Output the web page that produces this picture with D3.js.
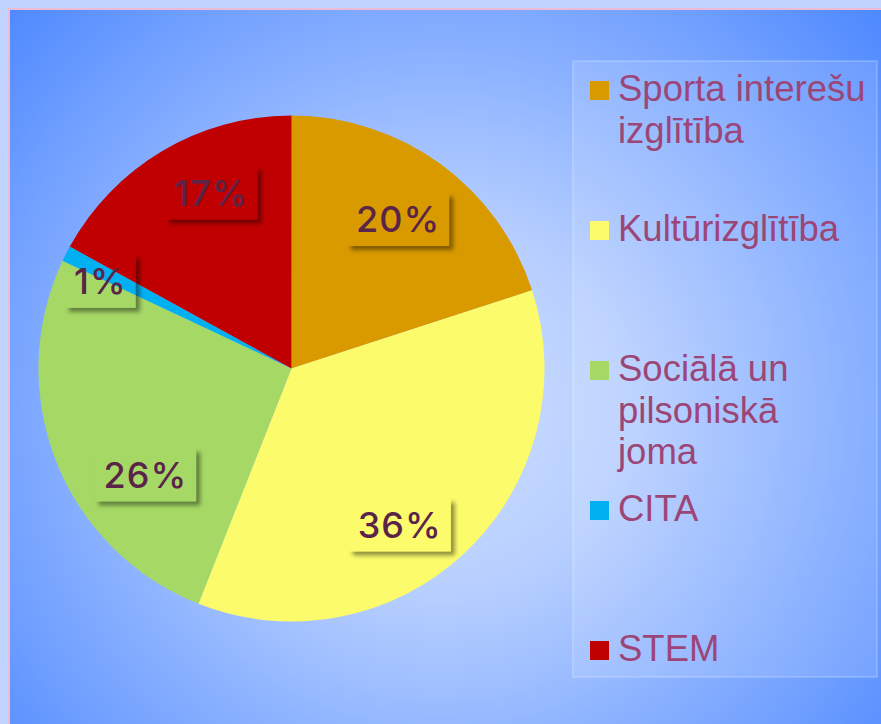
<!DOCTYPE html>
<html>
<head>
<meta charset="utf-8">
<script src="https://cdn.jsdelivr.net/npm/d3@7"></script>
<style>
  html, body { margin: 0; padding: 0; background: #c0d4ff; }
  svg { display: block; }
</style>
</head>
<body>
<svg id="chart" width="881" height="724"></svg>
<script>
// Interest-education programme shares (percent)
const categories = [
  "Sporta interešu\nizglītība",
  "Kultūrizglītība",
  "Sociālā un\npilsoniskā\njoma",
  "CITA",
  "STEM"
];
const values = [20, 36, 26, 1, 17];
const valueLabels = ["20%", "36%", "26%", "1%", "17%"];

// Styling
const sliceColors = ["#d99a00", "#fbfb6c", "#a6d866", "#00b0f0", "#c00000"];
// fine placement of the percentage boxes relative to each slice centroid
const labelShift = [[-1, -1], [-17, 23], [24, 39], [-28, -4], [13, -18]];
// box fill per label; the small one is see-through
const labelFill = ["#d99a00", "#fbfb6c", "#a6d866", "none", "#c00000"];

const W = 881, H = 724;
const cx = 291.5, cy = 368.5, R = 253;

const svg = d3.select("#chart");
const defs = svg.append("defs");

const grad = defs.append("radialGradient")
  .attr("id", "bg")
  .attr("gradientUnits", "userSpaceOnUse")
  .attr("cx", 440).attr("cy", 410).attr("r", 610);
grad.append("stop").attr("offset", 0).attr("stop-color", "#cddfff");
grad.append("stop").attr("offset", 0.3).attr("stop-color", "#b7cfff");
grad.append("stop").attr("offset", 1).attr("stop-color", "#4a86ff");

const blur = defs.append("filter")
  .attr("id", "blur")
  .attr("x", "-30%").attr("y", "-30%").attr("width", "160%").attr("height", "160%");
blur.append("feGaussianBlur").attr("stdDeviation", 2);

// slide background
svg.append("rect").attr("width", W).attr("height", H).attr("fill", "#c0d4ff");
svg.append("rect")
  .attr("x", 9).attr("y", 9).attr("width", W + 20).attr("height", H + 20)
  .attr("fill", "url(#bg)")
  .attr("stroke", "#ecbcd6").attr("stroke-width", 2);

// pie
const pie = d3.pie().sort(null).value(d => d)
  .startAngle(0).endAngle(2 * Math.PI);
const arcs = pie(values);
const arc = d3.arc().innerRadius(0).outerRadius(R);
const labelArc = d3.arc().innerRadius(183).outerRadius(183);

const g = svg.append("g").attr("transform", `translate(${cx},${cy})`);
g.selectAll("path.slice")
  .data(arcs)
  .join("path")
  .attr("class", "slice")
  .attr("d", arc)
  .attr("fill", (d, i) => sliceColors[i]);

// percentage labels in boxes with an outer shadow
const lab = g.selectAll("g.lab")
  .data(arcs)
  .join("g")
  .attr("class", "lab")
  .attr("transform", (d, i) => {
    const [x, y] = labelArc.centroid(d);
    return `translate(${x + labelShift[i][0]},${y + labelShift[i][1]})`;
  });

const shadowLayer = lab.append("g").attr("class", "shadow");
const boxLayer = lab.append("rect").attr("class", "box");

lab.append("text")
  .attr("text-anchor", "middle")
  .attr("dominant-baseline", "central")
  .attr("font-family", "Inter, 'DejaVu Sans', sans-serif")
  .attr("font-size", 36)
  .attr("font-weight", 500)
  .attr("letter-spacing", 1)
  .attr("fill", "#5a2448")
  .text((d, i) => valueLabels[i]);

lab.each(function (d, i) {
  const sel = d3.select(this);
  const w = sel.select("text").node().getComputedTextLength() + 18;
  const h = 53;
  const id = "labelMask" + i;
  const m = defs.append("mask").attr("id", id)
    .attr("maskUnits", "userSpaceOnUse")
    .attr("x", -200).attr("y", -200).attr("width", 400).attr("height", 400);
  m.append("rect").attr("x", -200).attr("y", -200).attr("width", 400).attr("height", 400).attr("fill", "#fff");
  m.append("rect").attr("x", -w / 2).attr("y", -h / 2).attr("width", w).attr("height", h).attr("fill", "#000");

  sel.select("g.shadow").attr("mask", `url(#${id})`)
    .append("rect")
    .attr("x", -w / 2 + 4).attr("y", -h / 2 + 4)
    .attr("width", w).attr("height", h)
    .attr("fill", "#000").attr("fill-opacity", 0.42)
    .attr("filter", "url(#blur)");

  sel.select("rect.box")
    .attr("x", -w / 2).attr("y", -h / 2)
    .attr("width", w).attr("height", h)
    .attr("fill", labelFill[i]);
});

// legend
const legend = svg.append("g");
legend.append("rect")
  .attr("x", 573).attr("y", 61).attr("width", 304).attr("height", 616)
  .attr("fill", "rgba(255,255,255,0.12)")
  .attr("stroke", "rgba(255,255,255,0.18)")
  .attr("stroke-width", 2);

const itemY = d3.scaleLinear().domain([0, categories.length - 1]).range([101, 661]);
const lineH = 41.5;

const items = legend.selectAll("g.item")
  .data(categories)
  .join("g")
  .attr("class", "item")
  .attr("transform", (d, i) => `translate(0,${itemY(i)})`);

items.append("rect")
  .attr("x", 590).attr("y", -20).attr("width", 19).attr("height", 19)
  .attr("fill", (d, i) => sliceColors[i]);

items.append("text")
  .attr("x", 618)
  .attr("font-family", "'Liberation Sans', Arial, sans-serif")
  .attr("font-size", 36.5)
  .attr("fill", "#9c4677")
  .selectAll("tspan")
  .data(d => d.split("\n"))
  .join("tspan")
  .attr("x", 618)
  .attr("y", (d, i) => i * lineH)
  .text(d => d);
</script>
</body>
</html>
